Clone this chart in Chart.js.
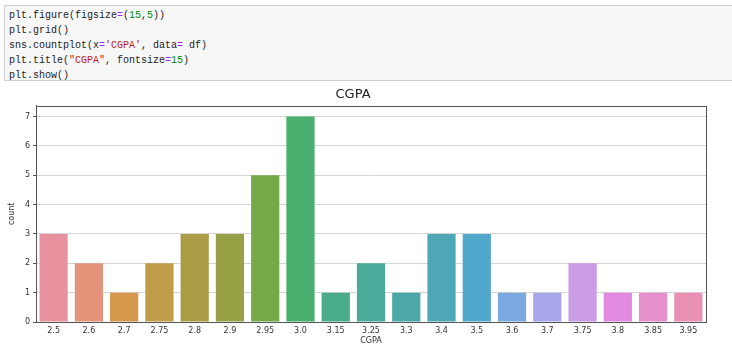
<!DOCTYPE html>
<html>
<head>
<meta charset="utf-8">
<script src="https://cdn.jsdelivr.net/npm/chart.js"></script>
<style>
  html, body { margin: 0; padding: 0; background: #fff; }
  body { width: 732px; height: 364px; position: relative; overflow: hidden; font-family: "DejaVu Sans", sans-serif; }
  .cell {
    position: absolute; left: 4px; top: 5px; width: 740px; height: 74px;
    background: #f7f7f7; border: 1px solid #cfcfcf;
  }
  .cell pre {
    margin: 0; padding: 2px 0 0 4px;
    font-family: "Liberation Mono", "DejaVu Sans Mono", monospace;
    font-size: 10px; line-height: 15px; color: #222;
  }
  .op { color: #aa22ff; }
  .num { color: #008800; }
  .str { color: #ba2121; }
  #wrap { position: absolute; left: 0; top: 85px; width: 732px; height: 279px; }
</style>
</head>
<body>
<div class="cell"><pre>plt.figure(figsize<span class="op">=</span>(<span class="num">15</span>,<span class="num">5</span>))
plt.grid()
sns.countplot(x<span class="op">=</span><span class="str">'CGPA'</span>, data<span class="op">=</span> df)
plt.title(<span class="str">"CGPA"</span>, fontsize<span class="op">=</span><span class="num">15</span>)
plt.show()</pre></div>
<div id="wrap"><canvas id="chart"></canvas></div>
<script>
// CGPA categories and their counts
const cgpaLabels = ['2.5', '2.6', '2.7', '2.75', '2.8', '2.9', '2.95', '3.0', '3.15', '3.25',
                    '3.3', '3.4', '3.5', '3.6', '3.7', '3.75', '3.8', '3.85', '3.95'];
const counts = [3, 2, 1, 2, 3, 3, 5, 7, 1, 2, 1, 3, 3, 1, 1, 2, 1, 1, 1];
const barColors = ['#e8929f', '#e5937a', '#d5974a', '#c09b48', '#aa9d45', '#98a046', '#76aa48',
                   '#4aae6e', '#48ac89', '#4aab9b', '#4ba8a7', '#4da7b5', '#52a8cc', '#7aa8e0',
                   '#a9a7eb', '#c99ce5', '#e28ae2', '#e78fcb', '#e891b4'];
const yTicks = [0, 1, 2, 3, 4, 5, 6, 7];

// Draw the full axes box (matplotlib spines)
const boxPlugin = {
  id: 'box',
  afterDraw(chart){
    let a = chart.chartArea;
    let ctx = chart.ctx;
    ctx.save();
    ctx.strokeStyle = '#555';
    ctx.lineWidth = 1;
    ctx.strokeRect(Math.round(a.left) + 0.5, Math.round(a.top) + 0.5,
                   Math.round(a.right - a.left), Math.round(a.bottom - a.top));
    ctx.restore();
  }
};

new Chart(document.getElementById('chart'), {
  type: 'bar',
  data: {
    labels: cgpaLabels,
    datasets: [{
      label: 'count',
      data: counts,
      backgroundColor: barColors,
      borderWidth: 0,
      categoryPercentage: 0.8,
      barPercentage: 1
    }]
  },
  options: {
    responsive: true,
    maintainAspectRatio: false,
    animation: false,
    layout: { padding: { left: 0, right: 26, top: 0, bottom: 18 } },
    plugins: {
      legend: { display: false },
      tooltip: { enabled: false },
      title: {
        display: true,
        text: 'CGPA',
        color: '#222',
        font: { family: 'DejaVu Sans', size: 13, weight: 'normal' },
        padding: { top: 2, bottom: 3 }
      }
    },
    scales: {
      x: {
        grid: { display: false, drawTicks: true, tickLength: 3 },
        border: { color: '#555' },
        ticks: { color: '#333', font: { family: 'DejaVu Sans', size: 8 }, padding: 1, maxRotation: 0, autoSkip: false },
        title: { display: true, text: 'CGPA', color: '#333', font: { family: 'DejaVu Sans', size: 8 }, padding: { top: 0, bottom: 0 } },
        afterFit(scale){ scale.height = 24; }
      },
      y: {
        min: 0,
        max: 7.37,
        grid: { color: '#d6d6d6', tickLength: 3, tickColor: '#555' },
        border: { color: '#555' },
        ticks: { stepSize: 1, color: '#333', font: { family: 'DejaVu Sans', size: 8 }, padding: 3 },
        afterBuildTicks(scale){ scale.ticks = yTicks.map(v => ({ value: v })); },
        title: { display: true, text: 'count', color: '#333', font: { family: 'DejaVu Sans', size: 8 }, padding: { top: 7, bottom: 2 } },
        afterFit(scale){ scale.width = 36; }
      }
    }
  },
  plugins: [boxPlugin]
});
</script>
</body>
</html>
